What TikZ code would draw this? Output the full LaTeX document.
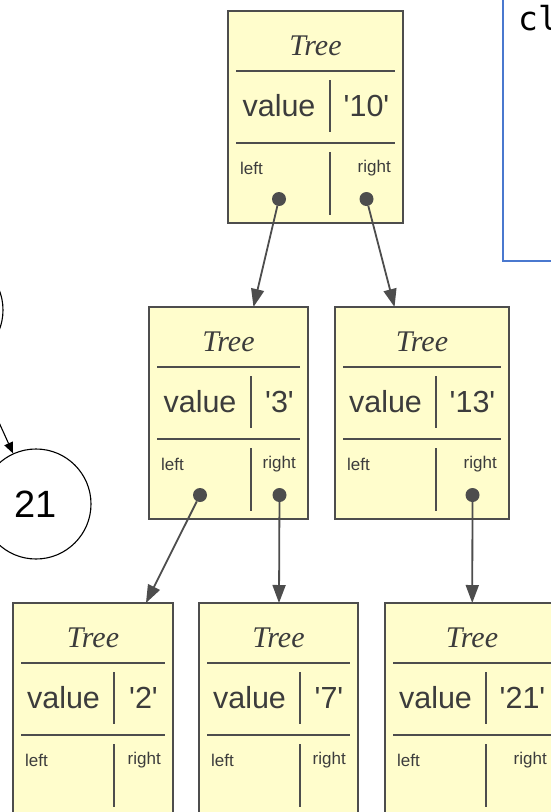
\documentclass[tikz,border=0pt]{standalone}
\usepackage{fontspec}
\setmainfont{Liberation Sans}
\newfontfamily\treefont{Liberation Serif}
\newfontfamily\codefont{DejaVu Sans Mono}
\usetikzlibrary{calc}
\usetikzlibrary{math}
\usetikzlibrary{arrows.meta}
\definecolor{BoxFill}{HTML}{FFFDCC}
\definecolor{BoxLine}{HTML}{4D4D4D}
\definecolor{BoxText}{HTML}{3C3C3C}
\definecolor{CodeBlue}{HTML}{4A78CF}

\begin{document}
\begin{tikzpicture}[x=1pt,y=-1pt]
    \tikzmath {
        \boxH = 212;
        \pad = 8;
        \ruleA = 60;
        \ruleB = 132;
        \ptrY = 188;
    }
    
    \tikzstyle{box}=[draw=BoxLine, line width=1.8pt, fill=BoxFill, anchor=north west, inner sep=0, outer sep=0, minimum height=\boxH pt]
    \tikzstyle{rule}=[BoxLine, line width=1.8pt]
    \tikzstyle{lbl}=[text=BoxText, inner sep=0]
    \tikzstyle{dot}=[shape=circle, fill=BoxLine, inner sep=0, minimum size=14pt]
    \tikzstyle{ptr}=[BoxLine, line width=1.8pt, -{Triangle[length=18pt,width=13pt]}]
    \tikzstyle{num}=[shape=circle, draw, line width=1.1pt, minimum size=110pt, inner sep=0]
    
    \useasboundingbox (0,0) rectangle (550,812);
    
    % one Tree record: title, value row, left/right row
    \foreach \nm/\bx/\by/\bw/\dv/\val in {root/228/11/175/102/10, n3/149/307/159/102/3, n13/335/307/174/101/13,
                                         n2/13/603/160/101/2, n7/199/603/159/101/7, n21/385/603/174/101/21} {
        \node[box, minimum width=\bw pt] (\nm) at (\bx,\by) {};
        \node[lbl] (\nm_title) at (\bx+\bw/2, \by+35) {\fontsize{30}{30}\selectfont\treefont\itshape Tree};
        \draw[rule] (\bx+\pad, \by+\ruleA) -- (\bx+\bw-\pad, \by+\ruleA);
        \node[lbl] (\nm_key) at (\bx+\dv/2, \by+95) {\fontsize{30.5}{30.5}\selectfont value};
        \node[lbl] (\nm_val) at (\bx+\dv/2+\bw/2, \by+95) {\fontsize{30.5}{30.5}\selectfont\textquotesingle\val\textquotesingle};
        \draw[rule] (\bx+\dv, \by+69) -- (\bx+\dv, \by+121);
        \draw[rule] (\bx+\pad, \by+\ruleB) -- (\bx+\bw-\pad, \by+\ruleB);
        \node[lbl, anchor=west] (\nm_l) at (\bx+12, \by+157) {\fontsize{17}{17}\selectfont left};
        \node[lbl, anchor=east] (\nm_r) at (\bx+\bw-12, \by+157) {\fontsize{17}{17}\selectfont right};
        \draw[rule] (\bx+\dv, \by+141) -- (\bx+\dv, \by+204);
        \coordinate (\nm_lp) at (\bx+\dv/2, \by+\ptrY);
        \coordinate (\nm_rp) at (\bx+\dv/2+\bw/2, \by+\ptrY);
    }
    
    \node[dot] (root_left) at (root_lp) {};
    \node[dot] (root_right) at (root_rp) {};
    \node[dot] (n3_left) at (n3_lp) {};
    \node[dot] (n3_right) at (n3_rp) {};
    \node[dot] (n13_right) at (n13_rp) {};
    
    \draw[ptr] (root_left) -- (n3);
    \draw[ptr] (root_right) -- (n13);
    \draw[ptr] (n3_left) -- (n2);
    \draw[ptr] (n3_right) -- (n7);
    \draw[ptr] (n13_right) -- (n21);
    
    % plain circles on the left
    \node[num] (c_up) at (-52,310) {};
    \node[num] (c21) at (36,504) {\fontsize{38}{38}\selectfont 21};
    \draw[line width=1.1pt, -{Triangle[length=11pt,width=9pt]}] (c_up) -- (c21);
    
    % code panel
    \coordinate (code_nw) at (503,-10);
    \coordinate (code_se) at (580,261);
    \draw[CodeBlue, line width=2pt] (code_nw) rectangle (code_se);
    \node[anchor=base west, inner sep=0] (code_text) at (518,30) {\codefont\fontsize{33}{33}\selectfont cl};
\end{tikzpicture}
\end{document}
